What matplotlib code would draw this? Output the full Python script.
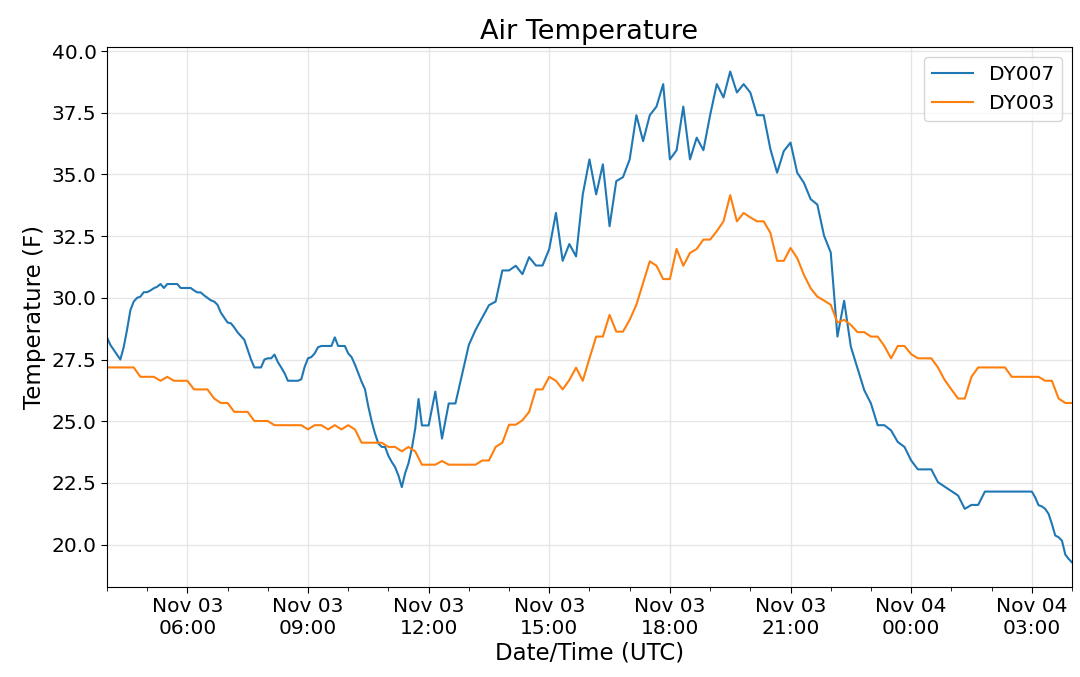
import numpy as np
import pandas as pd
import matplotlib
matplotlib.use("Agg")
import matplotlib.pyplot as plt
import matplotlib.dates as mdates

start = pd.Timestamp("2019-11-03 04:00")

# DY007: 5-min values 04:00-12:00
dy007_a = [28.4, 28.1, 27.9, 27.7, 27.5, 28.0, 28.7, 29.5, 29.85, 30.0,
           30.05, 30.23, 30.23, 30.3, 30.39, 30.45, 30.56, 30.4, 30.56, 30.56,
           30.56, 30.56, 30.4, 30.4, 30.4, 30.4, 30.3, 30.22, 30.22, 30.1,
           30.0, 29.9, 29.85, 29.72, 29.4, 29.2, 29.0, 28.97, 28.8, 28.6,
           28.45, 28.3, 27.9, 27.5, 27.18, 27.18, 27.18, 27.5, 27.55, 27.55,
           27.7, 27.4, 27.18, 26.95, 26.64, 26.64, 26.64, 26.64, 26.7, 27.2,
           27.55, 27.6, 27.75, 28.0, 28.05, 28.05, 28.05, 28.05, 28.4, 28.05,
           28.05, 28.05, 27.75, 27.6, 27.3, 26.95, 26.6, 26.3, 25.6, 25.0,
           24.5, 24.1, 23.96, 23.96, 23.6, 23.35, 23.14, 22.8, 22.33, 22.9,
           23.3, 23.9, 24.7, 25.9, 24.83, 24.83, 24.83]
# DY007: 10-min values 12:10-03:00
dy007_b = [26.2, 24.3, 25.72, 25.72, 26.9, 28.09, 28.7, 29.2, 29.7, 29.85,
           31.11, 31.11, 31.3, 30.96, 31.65, 31.31, 31.31, 31.98, 33.44, 31.5,
           32.18, 31.68, 34.19, 35.61, 34.19, 35.41, 32.9, 34.73, 34.89, 35.61,
           37.4, 36.35, 37.4, 37.75, 38.66, 35.61, 35.98, 37.75, 35.61, 36.49,
           35.98, 37.4, 38.66, 38.12, 39.17, 38.32, 38.66, 38.32, 37.4, 37.4,
           36.02, 35.07, 35.95, 36.29, 35.07, 34.66, 34.0, 33.78, 32.52, 31.84,
           28.43, 29.88, 28.02, 27.14, 26.26, 25.72, 24.84, 24.84, 24.63, 24.16,
           23.96, 23.41, 23.05, 23.05, 23.05, 22.53, 22.35, 22.17, 21.99, 21.45,
           21.61, 21.61, 22.15, 22.15, 22.15, 22.15, 22.15, 22.15, 22.15, 22.15]
# DY007: 5-min values 03:05-04:00
dy007_c = [21.92, 21.6, 21.55, 21.45, 21.25, 20.84, 20.37, 20.3, 20.16, 19.6,
           19.42, 19.28]

# DY003: 10-min values 04:00 - 04:00 next day
dy003 = [27.18, 27.18, 27.18, 27.18, 27.18, 26.8, 26.8, 26.8, 26.64, 26.8,
         26.64, 26.64, 26.64, 26.29, 26.29, 26.29, 25.92, 25.74, 25.74, 25.38,
         25.38, 25.38, 25.01, 25.01, 25.01, 24.84, 24.84, 24.84, 24.84, 24.84,
         24.67, 24.84, 24.84, 24.67, 24.84, 24.67, 24.84, 24.67, 24.13, 24.13,
         24.13, 24.13, 23.96, 23.96, 23.78, 23.96, 23.78, 23.24, 23.24, 23.24,
         23.39, 23.24, 23.24, 23.24, 23.24, 23.24, 23.41, 23.41, 23.96, 24.13,
         24.86, 24.86, 25.04, 25.38, 26.29, 26.29, 26.8, 26.64, 26.29, 26.67,
         27.17, 26.64, 27.55, 28.43, 28.43, 29.31, 28.63, 28.63, 29.11, 29.72,
         30.6, 31.48, 31.3, 30.76, 30.76, 31.98, 31.3, 31.82, 31.98, 32.36,
         32.36, 32.7, 33.1, 34.16, 33.1, 33.44, 33.26, 33.1, 33.1, 32.63,
         31.5, 31.5, 32.02, 31.61, 30.93, 30.39, 30.05, 29.89, 29.72, 29.0,
         29.11, 28.9, 28.61, 28.61, 28.43, 28.43, 28.05, 27.55, 28.05, 28.05,
         27.72, 27.55, 27.55, 27.55, 27.18, 26.67, 26.29, 25.92, 25.92, 26.8,
         27.18, 27.18, 27.18, 27.18, 27.18, 26.8, 26.8, 26.8, 26.8, 26.8,
         26.64, 26.64, 25.92, 25.74, 25.74]

series_names = ["DY007", "DY003"]

# timestamps
t_a = start + pd.to_timedelta(np.arange(len(dy007_a)) * 5, unit="min")
t_b = t_a[-1] + pd.to_timedelta((np.arange(len(dy007_b)) + 1) * 10, unit="min")
t_c = t_b[-1] + pd.to_timedelta((np.arange(len(dy007_c)) + 1) * 5, unit="min")
t007 = t_a.append(t_b).append(t_c)
v007 = dy007_a + dy007_b + dy007_c
t003 = start + pd.to_timedelta(np.arange(len(dy003)) * 10, unit="min")

fig = plt.figure(figsize=(10.8, 6.77), dpi=100)
ax = fig.add_axes([0.099, 0.133, 0.8936, 0.7976])

ax.plot(t007, v007, color="#1f77b4", lw=1.5, label=series_names[0])
ax.plot(t003, dy003, color="#ff7f0e", lw=1.5, label=series_names[1])

ax.set_xlim(t007[0], t007[-1])
ax.xaxis.set_major_locator(mdates.HourLocator(byhour=range(0, 24, 3)))
ax.xaxis.set_minor_locator(mdates.HourLocator())
ax.xaxis.set_major_formatter(mdates.DateFormatter("%b %d\n%H:%M"))
ax.yaxis.set_major_locator(matplotlib.ticker.MultipleLocator(2.5))
ax.yaxis.set_major_formatter(matplotlib.ticker.FormatStrFormatter("%.1f"))

ax.grid(True, which="major", color="#e6e6e6", lw=1.0)
ax.set_axisbelow(True)
ax.tick_params(axis="both", which="major", labelsize=14.5, length=4)
ax.tick_params(axis="both", which="minor", length=3)
for lab in ax.get_xticklabels():
    lab.set_horizontalalignment("center")

ax.set_title("Air Temperature", fontsize=19.5)
ax.set_xlabel("Date/Time (UTC)", fontsize=16.5, labelpad=2)
ax.set_ylabel("Temperature (F)", fontsize=16.5)
ax.legend(loc="upper right", fontsize=14.5)

fig.savefig("out.png", dpi=100)
